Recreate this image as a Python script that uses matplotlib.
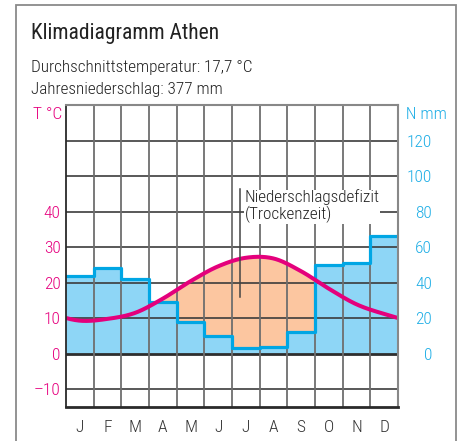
import matplotlib
matplotlib.use('Agg')
import matplotlib.pyplot as plt
from matplotlib.patches import Rectangle
import numpy as np

plt.rcParams['font.family'] = ['Roboto Condensed', 'DejaVu Sans']
plt.rcParams['font.weight'] = 'light'

months = ['J', 'F', 'M', 'A', 'M', 'J', 'J', 'A', 'S', 'O', 'N', 'D']
temp = [9.3, 9.8, 11.5, 15.5, 20.4, 24.6, 27.0, 26.8, 23.2, 18.3, 13.9, 11.2]   # °C
precip = [44, 48, 42, 29, 18, 10, 3, 4, 12, 50, 51, 66]                          # mm
temp_ticks = [-10, 0, 10, 20, 30, 40]
precip_ticks = [0, 20, 40, 60, 80, 100, 120]

W, H = 458, 441
fig = plt.figure(figsize=(W / 100, H / 100), dpi=100)

# plot box in pixels: x 66..398, y 105..407
ax = fig.add_axes([66 / W, 1 - 407 / H, 332 / W, 302 / H])
ax.set_xlim(0, 12)
ax.set_ylim(-15, 70)

# scale: 10 °C == 20 mm
p_t = np.array(precip) / 2.0

# smooth temperature curve (periodic Catmull-Rom through month centres)
t = np.array(temp)
xs = np.linspace(0, 12, 1201)
centres = np.arange(12) + 0.5
curve = np.empty_like(xs)
for k, x in enumerate(xs):
    i = int(np.floor(x - 0.5))
    u = (x - 0.5) - i
    P0, P1, P2, P3 = t[(i - 1) % 12], t[i % 12], t[(i + 1) % 12], t[(i + 2) % 12]
    curve[k] = 0.5 * (2 * P1 + (-P0 + P2) * u + (2 * P0 - 5 * P1 + 4 * P2 - P3) * u ** 2
                      + (-P0 + 3 * P1 - 3 * P2 + P3) * u ** 3)

step_dense = p_t[np.minimum(xs.astype(int), 11)]
edges = np.arange(13)
step_vals = np.append(p_t, p_t[-1])

ax.fill_between(edges, 0, step_vals, step='post', color='#8ed6f6', lw=0, zorder=1)
ax.fill_between(xs, step_dense, curve, where=curve > step_dense, interpolate=True,
                color='#fcc6a0', lw=0, zorder=1)

# grid
for y in range(-10, 70, 10):
    ax.axhline(y, color='#2e2e2e' if y == 0 else '#3c3c3c', lw=2.0 if y == 0 else 1.2, zorder=3)
for x in range(1, 12):
    ax.axvline(x, color='#6e6e6e', lw=1.3, zorder=3)

ax.step(edges, step_vals, where='post', color='#00a6e4', lw=2.3, zorder=4)
ax.plot(xs, curve, color='#e4007c', lw=2.9, zorder=5, solid_capstyle='butt')

# annotation
ax.plot([6.29, 6.29], [16.0, 46.3], color='#444444', lw=1.1, zorder=6)
ax.text(6.45, 46.2, 'Niederschlagsdefizit\n(Trockenzeit)', ha='left', va='top',
        fontsize=12.3, color='#222222', linespacing=1.05, zorder=7,
        bbox=dict(facecolor='white', edgecolor='none', pad=0.6))

for s in ['left', 'bottom']:
    ax.spines[s].set_color('#2a2a2a')
ax.spines['bottom'].set_linewidth(2.0)
ax.spines['left'].set_linewidth(1.3)
for s in ['top', 'right']:
    ax.spines[s].set_color('#888888')
    ax.spines[s].set_linewidth(1.5)
for s in ax.spines.values():
    s.set_zorder(8)

ax.set_xticks(centres)
ax.set_xticklabels(months, fontsize=12.5, color='#333333')
ax.set_yticks(temp_ticks)
ax.set_yticklabels([f'{v}'.replace('-', '\u2013') for v in temp_ticks], fontsize=12.5, color='#e6007e')
ax.tick_params(axis='both', length=0)
ax.tick_params(axis='x', pad=9)
ax.tick_params(axis='y', pad=4)

sec = ax.secondary_yaxis('right', functions=(lambda v: v * 2, lambda v: v / 2))
sec.set_yticks(precip_ticks)
sec.set_yticklabels([str(v) for v in precip_ticks], fontsize=12.5, color='#1eaee6')
sec.tick_params(length=0, pad=24.5)
for lab in sec.get_yticklabels():
    lab.set_horizontalalignment('right')
sec.spines['right'].set_visible(False)

ax.text(-0.15, 67.2, 'T °C', ha='right', va='center', fontsize=12.5, color='#e6007e')
ax.text(1.0, 67.2, '  N mm', ha='left', va='center', fontsize=12.5, color='#1eaee6',
        transform=ax.get_yaxis_transform())

# header
fig.text(31 / W, 1 - 39 / H, 'Klimadiagramm Athen', fontsize=15.5, fontweight='normal',
         color='#222222', va='baseline')
fig.text(31 / W, 1 - 72 / H, 'Durchschnittstemperatur: 17,7 °C', fontsize=12.3, color='#222222', va='baseline')
fig.text(31 / W, 1 - 94 / H, 'Jahresniederschlag: 377 mm', fontsize=12.3, color='#222222', va='baseline')

# outer frame
fig.patches.append(Rectangle((16 / W, -0.05), 440 / W, 1.05 - 5 / H, transform=fig.transFigure,
                             fill=False, edgecolor='#8a8a8a', lw=1.3))

fig.savefig('out.png', dpi=100)
